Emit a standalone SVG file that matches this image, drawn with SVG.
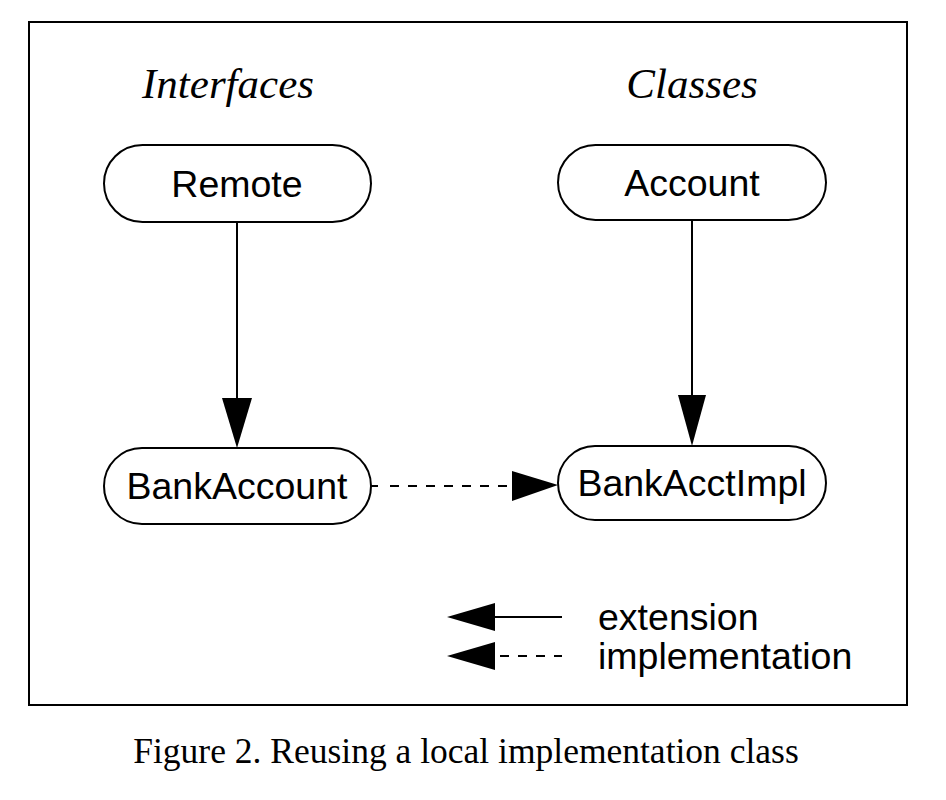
<svg xmlns="http://www.w3.org/2000/svg" width="946" height="800" viewBox="0 0 946 800">
<style>
.node{fill:#fff;stroke:#000;stroke-width:2}
.lbl{font-family:"Liberation Sans",Arial,sans-serif;font-size:37.5px;text-anchor:middle;fill:#000}
.hdr{font-family:"Liberation Serif","Times New Roman",serif;font-style:italic;font-size:43px;text-anchor:middle;fill:#000}
.ln{stroke:#000;stroke-width:2;fill:none}
.dash{stroke:#000;stroke-width:2;fill:none;stroke-dasharray:9 9}
.head{fill:#000}
.leg{font-family:"Liberation Sans",Arial,sans-serif;font-size:37.5px;fill:#000}
</style>
<rect x="0" y="0" width="946" height="800" fill="#fff"/>
<rect x="29" y="22" width="878" height="683" fill="none" stroke="#000" stroke-width="2"/>
<text class="hdr" x="228" y="98">Interfaces</text>
<text class="hdr" x="692" y="98">Classes</text>
<g id="connectors">
<line class="ln" x1="237" y1="222" x2="237" y2="400"/>
<polygon class="head" points="222,398 252,398 237,448"/>
<line class="ln" x1="692" y1="220" x2="692" y2="397"/>
<polygon class="head" points="678,395 706,395 692,446"/>
<line class="ln" x1="371" y1="486" x2="378" y2="486"/>
<line class="dash" x1="390" y1="486" x2="512" y2="486"/>
<polygon class="head" points="512,471 512,501 558,485"/>
</g>
<g id="remote"><rect class="node" x="104" y="145" width="267" height="77" rx="38.5"/><text class="lbl" x="237" y="197">Remote</text></g>
<g id="account"><rect class="node" x="558" y="145" width="268" height="75" rx="37.5"/><text class="lbl" x="692" y="196">Account</text></g>
<g id="bankaccount"><rect class="node" x="104" y="448" width="267" height="76" rx="38"/><text class="lbl" x="237" y="499">BankAccount</text></g>
<g id="bankacctimpl"><rect class="node" x="558" y="446" width="268" height="74" rx="37"/><text class="lbl" x="692" y="496">BankAcctImpl</text></g>
<g id="legend">
<polygon class="head" points="447,617 495,603 495,631"/>
<line class="ln" x1="493" y1="617" x2="562" y2="617"/>
<polygon class="head" points="447,656 495,642 495,670"/>
<line class="dash" x1="500" y1="656" x2="562" y2="656" stroke-dasharray="8 10"/>
<text class="leg" x="598" y="630">extension</text>
<text class="leg" x="598" y="669">implementation</text>
</g>
<text x="466" y="763" font-family="'Liberation Serif','Times New Roman',serif" font-size="35.5" text-anchor="middle">Figure 2. Reusing a local implementation class</text>
</svg>
